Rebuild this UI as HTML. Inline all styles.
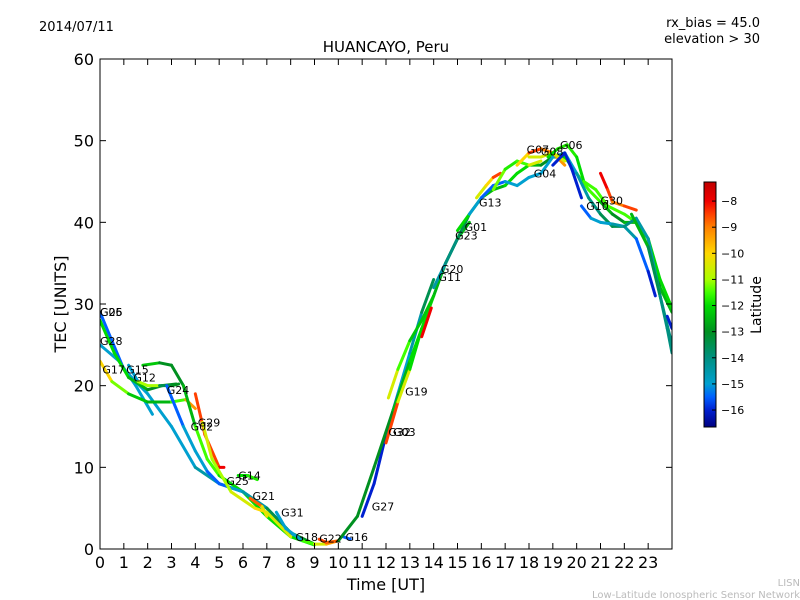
<!DOCTYPE html>
<html><head><meta charset="utf-8"><style>
body{margin:0;background:#fff;}
svg{display:block;font-family:"DejaVu Sans","Liberation Sans",sans-serif;}
</style></head><body>
<svg id="chart" width="800" height="600" xmlns="http://www.w3.org/2000/svg">
<rect width="800" height="600" fill="#fff"/>
<text x="39" y="31" font-size="13">2014/07/11</text>
<text x="760" y="27" font-size="13" text-anchor="end">rx_bias = 45.0</text>
<text x="760" y="43" font-size="13" text-anchor="end">elevation &gt; 30</text>
<text x="386" y="52" font-size="15" text-anchor="middle">HUANCAYO, Peru</text>
<text x="386" y="590" font-size="16" text-anchor="middle">Time [UT]</text>
<text x="66" y="304" font-size="16" text-anchor="middle" transform="rotate(-90 66 304)">TEC [UNITS]</text>
<text x="800" y="586" font-size="10" fill="#bbb" text-anchor="end">LISN</text>
<text x="800" y="598" font-size="10" fill="#bbb" text-anchor="end">Low-Latitude Ionospheric Sensor Network</text>
<defs><linearGradient id="jet" x1="0" y1="1" x2="0" y2="0"></linearGradient>
<clipPath id="plotclip"><rect x="100" y="59" width="572" height="490"/></clipPath></defs>
<g id="marks" clip-path="url(#plotclip)"></g>
<g id="labels"></g>
<rect x="100" y="59" width="572" height="490" fill="none" stroke="#000" stroke-width="1"/>
<g id="axes"></g>
<rect x="704" y="182" width="12" height="245" fill="url(#jet)" stroke="#000" stroke-width="1"/>
<g id="cbticks"></g>
<text x="761" y="305" font-size="14" text-anchor="middle" transform="rotate(-90 761 305)">Latitude</text>
</svg>
<script>
const xTicks=[0,1,2,3,4,5,6,7,8,9,10,11,12,13,14,15,16,17,18,19,20,21,22,23];
const yTicks=[0,10,20,30,40,50,60];
const cbTicks=[-8,-9,-10,-11,-12,-13,-14,-15,-16];
const tracks=[
[[0,29,-16],[1,22,-15],[2,19,-15],[3,15,-15],[4,10,-15],[5,8,-14],[6,7,-14],[7,5,-15],[8,2,-15],[8.5,1,-16]],
[[0,25,-15],[0.8,23,-15],[1.5,20,-15],[2.2,16.5,-15]],
[[0,28,-12],[0.6,24,-12],[1.2,21,-12],[2,19.5,-13],[2.6,20,-13],[3.2,20.2,-13]],
[[0,23,-9.5],[0.5,20.5,-10.5],[1.2,19,-12],[2,18,-12.5],[3,18,-12.5],[3.6,18.3,-10.5],[4,17.2,-8]],
[[1.2,22.5,-16],[1.6,20.5,-14],[2,20,-8],[2.5,20,-14],[3,20,-13],[3.3,20.2,-13]],
[[1.8,22.5,-11.5],[2.5,22.8,-13],[3,22.5,-13],[3.5,20,-13],[4,15,-12],[4.5,11,-11],[5,9,-12],[6,7,-12],[7,4,-12],[8,1.5,-12],[9,0.5,-12]],
[[2.8,20,-16],[3.5,15,-15],[4,12,-15],[4.5,9.5,-15],[5,8,-16],[5.5,7.5,-15],[6,7,-15],[7,5,-14],[8,2,-13],[9,0.6,-13]],
[[4,19,-8],[4.4,14,-9],[5,10,-8],[5.2,10,-8]],
[[4.3,15.5,-10],[4.7,11,-11],[5.5,7,-11],[6.5,5,-10],[7,4.5,-10],[8,1.5,-11]],
[[5.8,9,-12],[6.2,9,-12],[6.6,8.5,-11.5]],
[[6.3,6.2,-8],[6.8,5.2,-9.5],[7,4,-11]],
[[7.4,4.5,-15],[7.8,2.5,-15],[8.5,1,-15]],
[[8.5,1,-12],[9,0.6,-11],[9.5,0.6,-10],[10,1,-9]],
[[9.2,1.2,-8],[9.5,0.8,-9],[10,1,-8.5]],
[[10.2,1.5,-16],[10.5,1.2,-15]],
[[11,4,-16],[11.5,8,-16],[12,14,-16],[12.5,19,-15],[13,24,-15],[13.5,29,-14],[14,33,-13]],
[[10,1,-13],[10.8,4,-13],[11.5,10,-13],[12.3,17,-13],[13,23,-12],[13.5,27,-12],[14,31,-12],[14.5,35,-13],[15,38,-13],[15.5,40,-12]],
[[12,13,-8],[12.5,18,-9],[13,22,-12],[13.5,27,-12]],
[[12.1,18.5,-10],[12.5,22,-11],[13,25.5,-12],[13.5,28,-12.5],[14,31,-12]],
[[13.5,26,-8],[13.9,29.5,-8]],
[[14,32,-15],[14.5,35,-14],[15,38,-14],[15.5,41,-13],[16,43,-12],[16.5,44,-13],[17,44.5,-12],[17.5,46,-12],[18,47,-12],[18.5,47,-13],[19,48,-13],[19.5,48,-12],[20,46,-12],[20.5,44,-11],[21,42.5,-12],[21.5,41,-13],[22,40,-13],[22.5,40,-12],[23,37,-13],[23.5,32,-13],[24,29,-12]],
[[15,39,-9],[15.5,41,-15],[16,43,-15],[16.5,44.5,-16],[17,45,-15],[17.5,44.5,-15],[18,45.5,-15],[18.5,46,-15],[19,48,-15],[19.5,48.5,-15],[20,46,-15],[20.5,43,-14],[21,41,-14],[21.5,39.5,-13],[22,39.5,-14],[22.5,38,-15],[23,34,-16],[23.3,31,-16]],
[[15.8,43,-10],[16.2,44.5,-11],[16.5,45.5,-9],[16.8,46,-8]],
[[16.5,44,-11],[17,46.5,-11.5],[17.5,47.5,-12],[18,47,-11],[18.5,47.5,-10]],
[[17.5,47,-11],[18,48.5,-9],[18.5,49,-8],[19,48.5,-10],[19.5,47,-8.5]],
[[18,48,-10],[18.5,48,-11],[19,48.5,-10],[19.5,47.5,-11]],
[[18.8,48,-12],[19.2,49,-12],[19.6,49.5,-11.5],[20,48,-12],[20.3,45,-12],[20.8,44,-11],[21.3,42,-12],[22,41,-11],[22.5,40,-12],[23,38,-12],[23.5,33,-12],[24,29.5,-12]],
[[19,47,-16],[19.5,48.5,-16],[19.8,46.5,-16],[20.2,43,-16]],
[[20.2,42,-16],[20.6,40.5,-15],[21,40,-15],[21.5,39.8,-15],[22,39.5,-14],[22.5,40.5,-14],[23,38,-15],[23.5,31,-14],[24,25,-14]],
[[21,46,-8],[21.3,44,-8],[21.5,42.5,-9],[22,42,-9],[22.5,41.5,-8]],
[[22.3,41,-12],[23,37,-13],[23.5,31,-14],[23.8,27,-14],[24,24,-14]],
[[23.8,28.5,-16],[24,27,-16]]
];
const labelNames=["G05","G26","G28","G17","G15","G12","G24","G29","G02","G14","G25","G21","G31","G18","G22","G16","G27","G32","G03","G19","G11","G20","G23","G01","G13","G04","G07","G08","G06","G10","G30"];
const labelPos=[[0,29],[0,29],[0,25.5],[0.1,22],[1.1,22],[1.4,21],[2.8,19.5],[4.1,15.5],[3.8,15],[5.8,9],[5.3,8.3],[6.4,6.5],[7.6,4.5],[8.2,1.5],[9.2,1.3],[10.3,1.5],[11.4,5.2],[12.1,14.3],[12.3,14.3],[12.8,19.3],[14.2,33.3],[14.3,34.3],[14.9,38.4],[15.3,39.4],[15.9,42.4],[18.2,46],[17.9,48.9],[18.5,48.7],[19.3,49.5],[20.4,42],[21,42.7]];
const X=h=>100+h*572/24, Y=v=>549-v*490/60;
const latMin=-16.65, latMax=-7.27;
// colormap stops (lat, color)
const cmLat=[-16.65,-16,-15.5,-15,-14,-13,-12,-11.5,-11,-10,-9,-8.5,-8,-7.27];
const cmCol=[[0,0,128],[0,32,208],[0,96,255],[0,160,208],[0,144,128],[0,144,32],[0,220,0],[64,255,0],[170,255,0],[255,215,0],[255,128,0],[255,64,0],[240,0,0],[192,0,0]];
function cmap(lat){
 lat=Math.max(latMin,Math.min(latMax,lat));
 for(let i=0;i<cmLat.length-1;i++){
  if(lat<=cmLat[i+1]){const f=(lat-cmLat[i])/(cmLat[i+1]-cmLat[i]);
   const c=cmCol[i].map((v,k)=>Math.round(v+(cmCol[i+1][k]-v)*f));
   return `rgb(${c[0]},${c[1]},${c[2]})`;}
 }
 return 'rgb(192,0,0)';
}
const NS="http://www.w3.org/2000/svg";
function mk(tag,attrs,parent){const e=document.createElementNS(NS,tag);for(const k in attrs)e.setAttribute(k,attrs[k]);parent.appendChild(e);return e;}
const grad=document.getElementById('jet');
cmLat.forEach((l,i)=>{mk('stop',{offset:(l-latMin)/(latMax-latMin),'stop-color':cmap(l)},grad);});
const marks=document.getElementById('marks');
tracks.forEach((tr,i)=>{
 const g=mk('g',{},marks);
 
 
 for(let j=0;j<tr.length-1;j++){
  const a=tr[j],b=tr[j+1];
  const seg=mk('line',{x1:X(a[0]),y1:Y(a[1]),x2:X(b[0]),y2:Y(b[1]),stroke:cmap((a[2]+b[2])/2),'stroke-width':3,'stroke-linecap':'round'},g);
  
  
 }
});
const labels=document.getElementById('labels');
labelNames.forEach((n,i)=>{
 const t=mk('text',{x:X(labelPos[i][0]),y:Y(labelPos[i][1])+4,'font-size':11},labels);
 
 
 t.textContent=n;
});
const axes=document.getElementById('axes');
xTicks.forEach(h=>{
 const x=X(h);
 mk('line',{x1:x,y1:549,x2:x,y2:543,stroke:'#000'},axes);
 mk('line',{x1:x,y1:59,x2:x,y2:65,stroke:'#000'},axes);
 const t=mk('text',{x:x,y:568,'font-size':16,'text-anchor':'middle'},axes);
 
 
 t.textContent=h;
});
yTicks.forEach(v=>{
 const y=Y(v);
 mk('line',{x1:100,y1:y,x2:106,y2:y,stroke:'#000'},axes);
 mk('line',{x1:672,y1:y,x2:666,y2:y,stroke:'#000'},axes);
 const t=mk('text',{x:94,y:y+6,'font-size':16,'text-anchor':'end'},axes);
 
 
 t.textContent=v;
});
const cb=document.getElementById('cbticks');
cbTicks.forEach(v=>{
 const y=182+(latMax-v)/(latMax-latMin)*245;
 mk('line',{x1:712,y1:y,x2:716,y2:y,stroke:'#000'},cb);
 const t=mk('text',{x:721,y:y+4,'font-size':11},cb);
 
 
 t.textContent='\u2212'+Math.abs(v);
});
</script>
</body></html>
